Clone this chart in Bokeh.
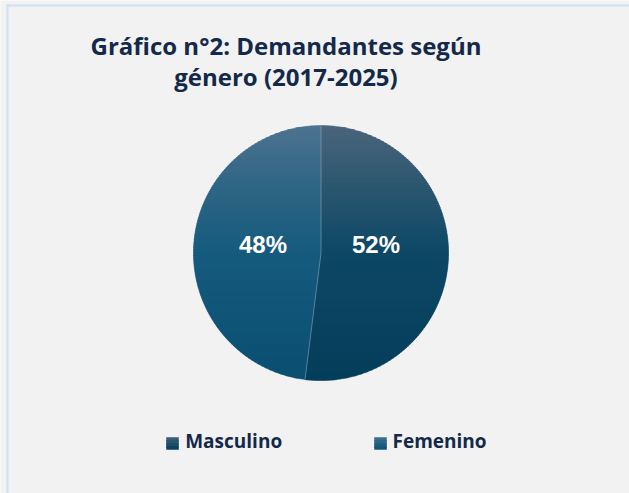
import math
from bokeh.plotting import figure
from bokeh.models import Range1d
from bokeh.core.properties import value
from bokeh.embed import file_html
from bokeh.resources import INLINE

# ---- data ----
categories = ["Masculino", "Femenino"]
shares = [52, 48]
pct_labels = ["52%", "48%"]
title_lines = ["Gráfico n°2: Demandantes según", "género (2017-2025)"]

# ---- styles ----
grad_stops = {
    "Masculino": [(0.0, "#4a657c"), (0.25, "#2b566f"), (0.5, "#0c4866"), (1.0, "#053e5a")],
    "Femenino": [(0.0, "#4d7390"), (0.25, "#2e6584"), (0.5, "#165b7e"), (1.0, "#0a4f72")],
}
legend_grad = {
    "Masculino": [(0.0, "#3f5f79"), (1.0, "#063f5c")],
    "Femenino": [(0.0, "#41708e"), (1.0, "#0b5276")],
}
TEXT_COLOR = "#14294a"
BG = "#f2f2f2"

W, H = 629, 493
p = figure(width=W, height=H, output_backend="svg", toolbar_location=None,
           x_range=Range1d(0, W), y_range=Range1d(H, 0), min_border=0,
           x_axis_location=None, y_axis_location=None)
p.grid.visible = False
p.outline_line_color = None
p.background_fill_color = BG
p.border_fill_color = BG


def hex2rgb(h):
    h = h.lstrip("#")
    return tuple(int(h[i:i + 2], 16) for i in (0, 2, 4))


def interp(stops, t):
    t = max(0.0, min(1.0, t))
    for (t0, c0), (t1, c1) in zip(stops[:-1], stops[1:]):
        if t <= t1:
            f = 0 if t1 == t0 else (t - t0) / (t1 - t0)
            a, b = hex2rgb(c0), hex2rgb(c1)
            return "#%02x%02x%02x" % tuple(round(a[i] + (b[i] - a[i]) * f) for i in range(3))
    return stops[-1][1]


def clip(poly, yv, keep_above):
    out = []
    n = len(poly)
    for i in range(n):
        cur = poly[i]
        prev = poly[i - 1]
        cin = cur[1] >= yv if keep_above else cur[1] <= yv
        pin = prev[1] >= yv if keep_above else prev[1] <= yv
        if cin:
            if not pin:
                f = (yv - prev[1]) / (cur[1] - prev[1])
                out.append((prev[0] + f * (cur[0] - prev[0]), yv))
            out.append(cur)
        elif pin:
            f = (yv - prev[1]) / (cur[1] - prev[1])
            out.append((prev[0] + f * (cur[0] - prev[0]), yv))
    return out


# ---- pie ----
CX, CY, R = 320.5, 252.5, 127.5
total = float(sum(shares))
angle = 90.0
xs_all, ys_all, cols_all = [], [], []
bounds = []
for cat, v in zip(categories, shares):
    a0 = angle
    a1 = angle - 360.0 * v / total
    bounds.append(a0)
    n = 240
    poly = [(CX, CY)]
    for k in range(n + 1):
        a = math.radians(a0 + (a1 - a0) * k / n)
        poly.append((CX + R * math.cos(a), CY - R * math.sin(a)))
    step = 2.0
    y = CY - R
    while y < CY + R:
        band = clip(clip(poly, y, True), y + step + 0.6, False)
        if len(band) >= 3:
            t = (y + step / 2 - (CY - R)) / (2 * R)
            c = interp(grad_stops[cat], t)
            xs_all.append([q[0] for q in band])
            ys_all.append([q[1] for q in band])
            cols_all.append(c)
        y += step
    angle = a1

p.patches(xs_all, ys_all, fill_color=cols_all, line_color=cols_all, line_width=0.5)

# slice separators
for a in bounds:
    ar = math.radians(a)
    p.segment(x0=[CX], y0=[CY], x1=[CX + R * math.cos(ar)], y1=[CY - R * math.sin(ar)],
              line_color="#a8c0d0", line_width=0.8, line_alpha=0.55)

# percentage labels
p.text(x=[375.5, 262.5], y=[244, 244], text=pct_labels,
       text_font=value("Liberation Sans"), text_font_style="bold", text_font_size="24px",
       text_color="white", text_align="center", text_baseline="alphabetic")

# ---- title ----
p.text(x=[285.5, 285.5], y=[45, 76], text=title_lines,
       text_font=value("Open Sans"), text_font_style="bold", text_font_size="24px",
       text_color=TEXT_COLOR, text_align="center", text_baseline="alphabetic")

# ---- legend ----
leg_x = [166, 374]
leg_top, leg_size = 437, 12
for cat, lx in zip(categories, leg_x):
    nb = 4
    lefts, rights, tops, bottoms, cs = [], [], [], [], []
    for k in range(nb):
        t0 = leg_top + leg_size * k / nb
        lefts.append(lx)
        rights.append(lx + leg_size)
        tops.append(t0)
        bottoms.append(min(t0 + leg_size / nb + 1.0, leg_top + leg_size))
        cs.append(interp(legend_grad[cat], (k + 0.5) / nb))
    p.quad(left=lefts, right=rights, top=tops, bottom=bottoms, fill_color=cs,
           line_color=cs, line_width=0.5)

p.text(x=[184.7, 392], y=[440, 440], text=categories,
       text_font=value("Open Sans"), text_font_style="bold", text_font_size="19px",
       text_color=TEXT_COLOR, text_align="left", text_baseline="alphabetic")

# ---- frame border (top and left) ----
p.segment(x0=[6, 7], y0=[5, 4], x1=[W, 7], y1=[5, H], line_color="#cde0f4", line_width=2)

open("out.html", "w").write(file_html(p, INLINE))
